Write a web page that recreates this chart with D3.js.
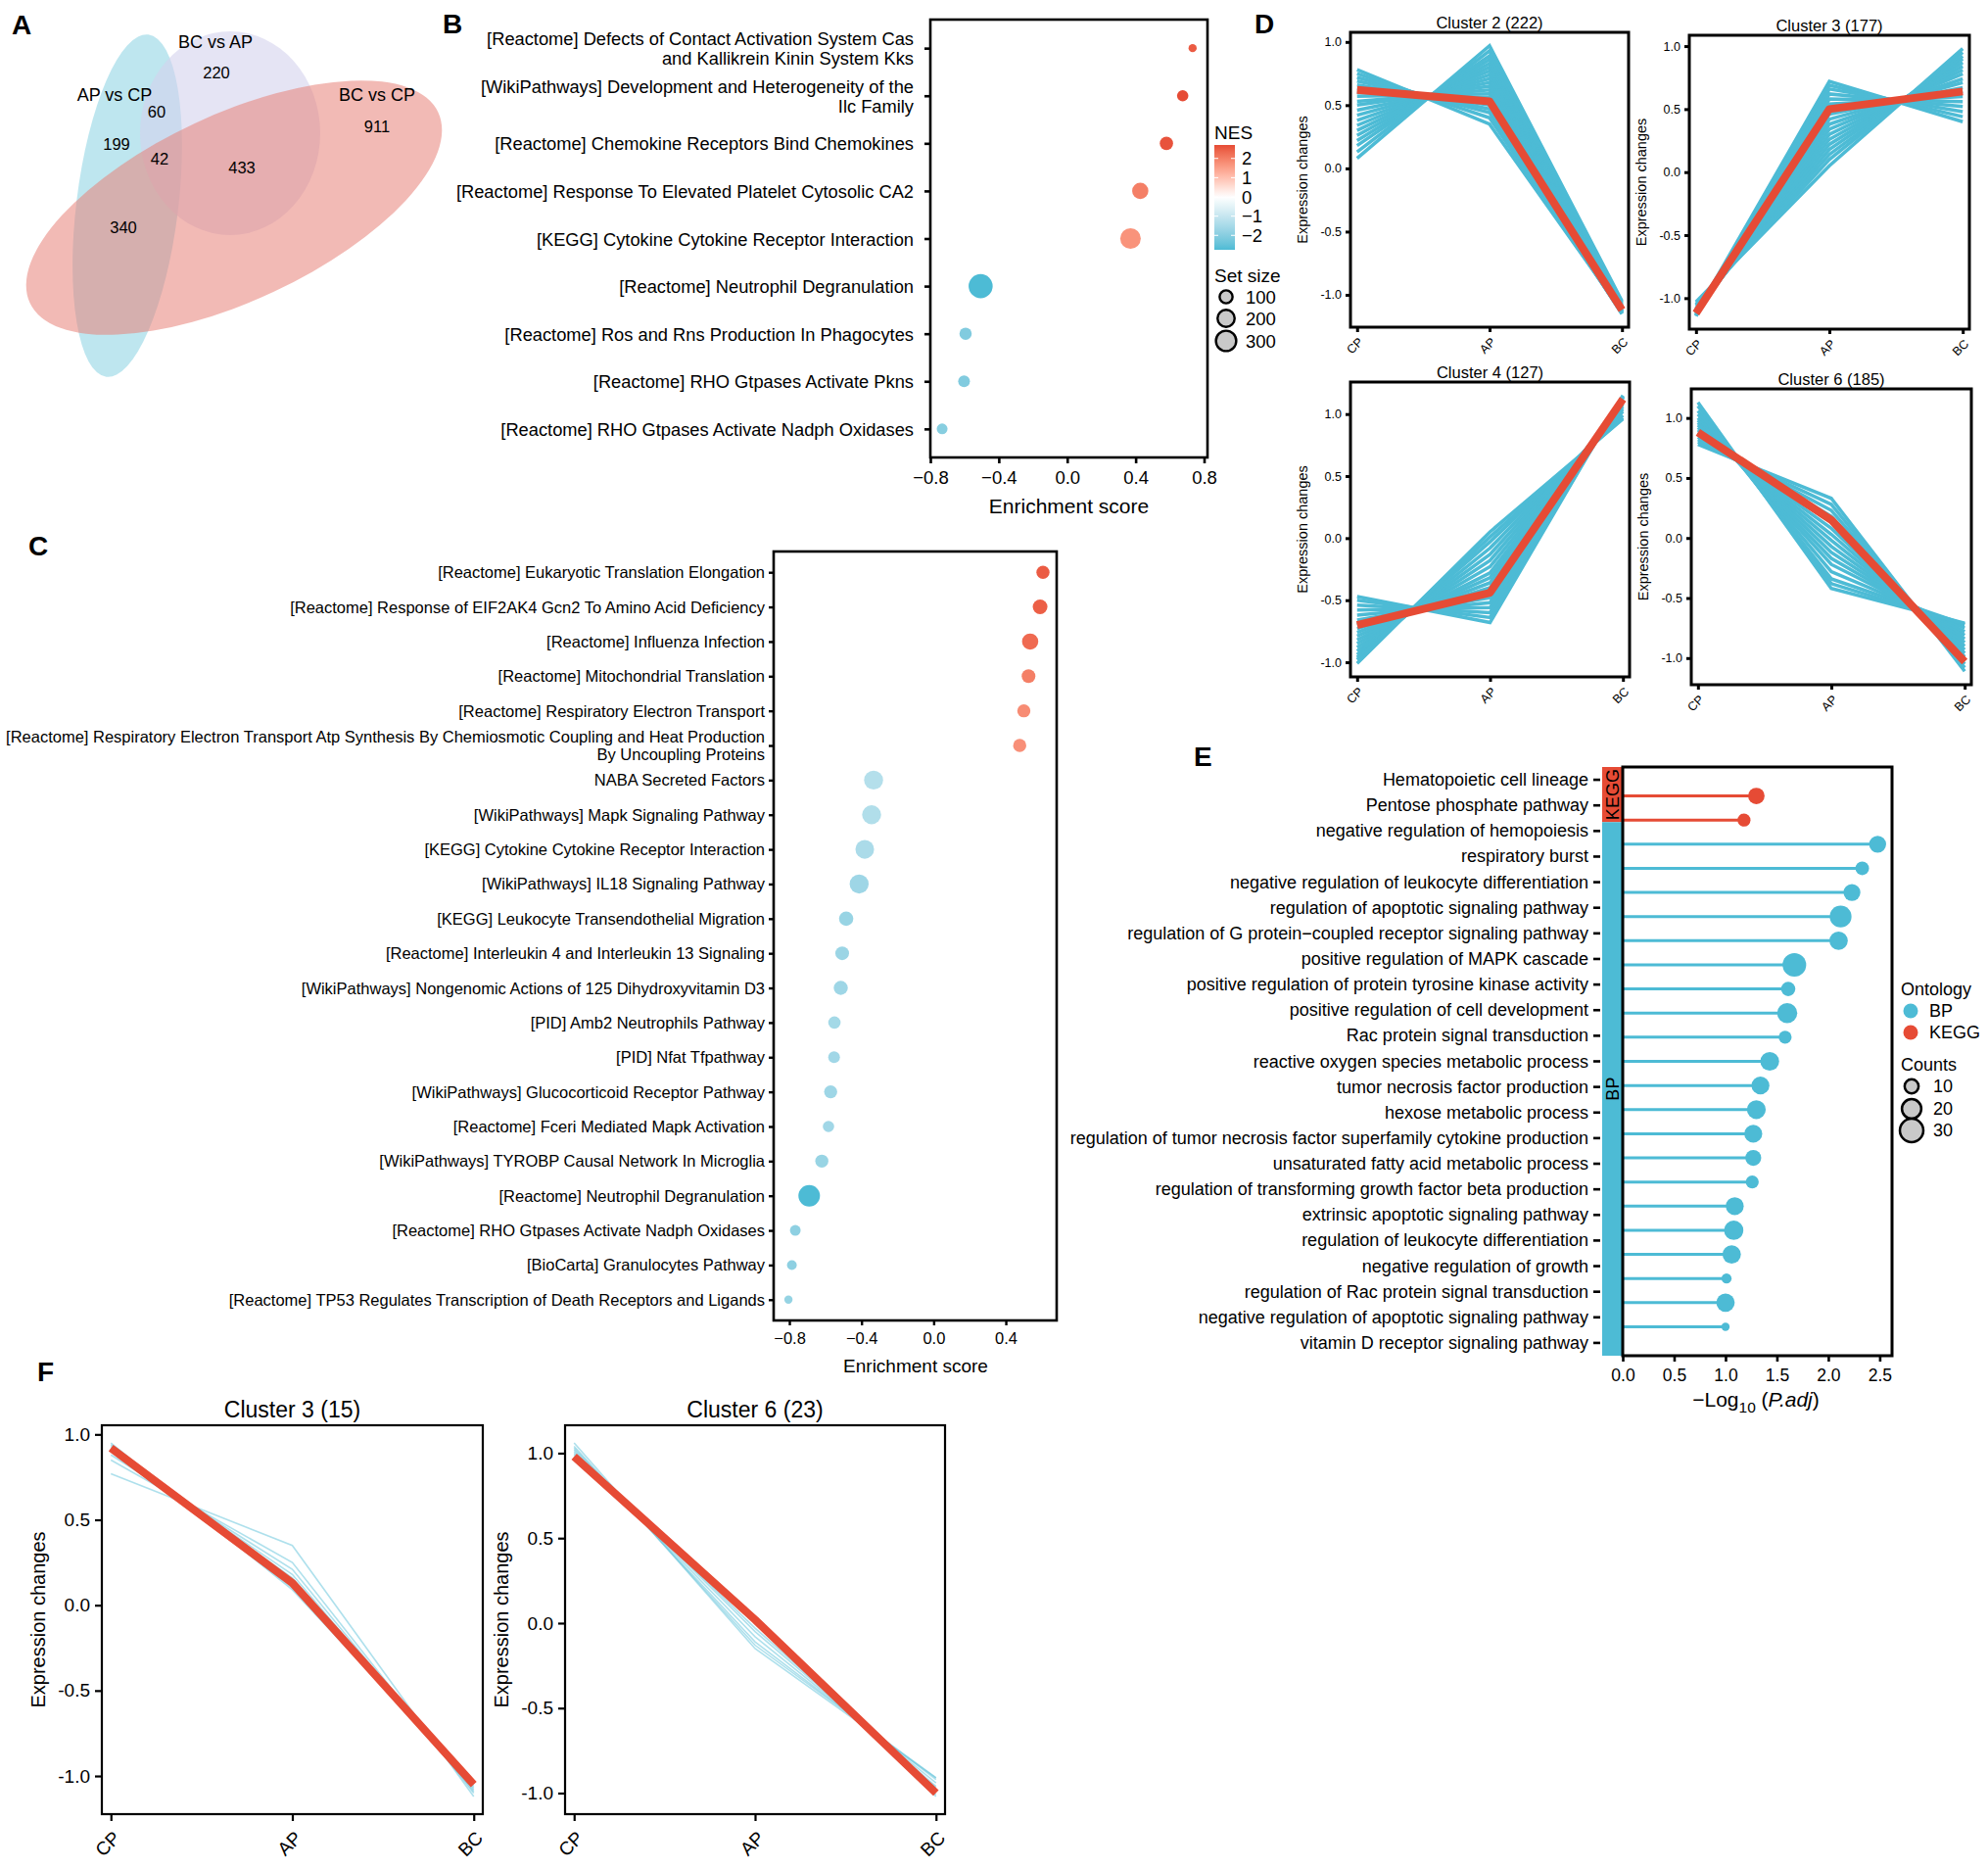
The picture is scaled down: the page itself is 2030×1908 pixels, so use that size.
<!DOCTYPE html>
<html lang="en">
<head>
<meta charset="utf-8">
<title>Figure</title>
<script src="https://cdn.jsdelivr.net/npm/d3@7"></script>
<style>
  body { margin: 0; background: #fff; }
  text { font-family: "Liberation Sans", Arial, sans-serif; fill: #000; }
</style>
</head>
<body>
<script>
// ---------- data ----------
// A: venn counts
var vennNames = ["AP vs CP", "BC vs AP", "BC vs CP"];
var vennRegions = ["AP only", "BC-AP only", "BC-CP only", "AP & BC-AP", "AP & BC-CP", "BC-AP & BC-CP", "all"];
var vennCounts = [199, 220, 911, 60, 340, 433, 42];

// B: GSEA
var bTerms = [
  "[Reactome] Defects of Contact Activation System Cas\nand Kallikrein Kinin System Kks",
  "[WikiPathways] Development and Heterogeneity of the\nIlc Family",
  "[Reactome] Chemokine Receptors Bind Chemokines",
  "[Reactome] Response To Elevated Platelet Cytosolic CA2",
  "[KEGG] Cytokine Cytokine Receptor Interaction",
  "[Reactome] Neutrophil Degranulation",
  "[Reactome] Ros and Rns Production In Phagocytes",
  "[Reactome] RHO Gtpases Activate Pkns",
  "[Reactome] RHO Gtpases Activate Nadph Oxidases"
];
var bES = [0.733, 0.675, 0.58, 0.427, 0.37, -0.506, -0.594, -0.603, -0.731];
var bNES = [2.5, 2.7, 2.6, 2.0, 1.7, -2.75, -2.1, -2.1, -2.0];
var bSize = [18, 55, 88, 151, 275, 405, 70, 61, 47];
var bTicks = [-0.8, -0.4, 0.0, 0.4, 0.8];
var nesTicks = [2, 1, 0, -1, -2];
var sizeBreaks = [100, 200, 300];

// C: GSEA
var cTerms = [
  "[Reactome] Eukaryotic Translation Elongation",
  "[Reactome] Response of EIF2AK4 Gcn2 To Amino Acid Deficiency",
  "[Reactome] Influenza Infection",
  "[Reactome] Mitochondrial Translation",
  "[Reactome] Respiratory Electron Transport",
  "[Reactome] Respiratory Electron Transport Atp Synthesis By Chemiosmotic Coupling and Heat Production\nBy Uncoupling Proteins",
  "NABA Secreted Factors",
  "[WikiPathways] Mapk Signaling Pathway",
  "[KEGG] Cytokine Cytokine Receptor Interaction",
  "[WikiPathways] IL18 Signaling Pathway",
  "[KEGG] Leukocyte Transendothelial Migration",
  "[Reactome] Interleukin 4 and Interleukin 13 Signaling",
  "[WikiPathways] Nongenomic Actions of 125 Dihydroxyvitamin D3",
  "[PID] Amb2 Neutrophils Pathway",
  "[PID] Nfat Tfpathway",
  "[WikiPathways] Glucocorticoid Receptor Pathway",
  "[Reactome] Fceri Mediated Mapk Activation",
  "[WikiPathways] TYROBP Causal Network In Microglia",
  "[Reactome] Neutrophil Degranulation",
  "[Reactome] RHO Gtpases Activate Nadph Oxidases",
  "[BioCarta] Granulocytes Pathway",
  "[Reactome] TP53 Regulates Transcription of Death Receptors and Ligands"
];
var cES = [0.606, 0.59, 0.535, 0.526, 0.50, 0.477, -0.333, -0.344, -0.382, -0.413, -0.485,
           -0.507, -0.515, -0.55, -0.552, -0.571, -0.583, -0.62, -0.69, -0.767, -0.786, -0.805];
var cNES = [2.5, 2.45, 2.3, 2.0, 1.8, 1.75, -1.3, -1.35, -1.45, -1.65, -1.75,
            -1.7, -1.65, -1.55, -1.6, -1.65, -1.6, -1.75, -2.75, -1.9, -1.9, -1.8];
var cSize = [109, 149, 196, 123, 109, 109, 293, 293, 280, 293, 139,
             123, 133, 91, 79, 109, 71, 109, 400, 60, 44, 24];
var cTicks = [-0.8, -0.4, 0.0, 0.4];

// D / F: expression profiles (CP, AP, BC)
var stages = ["CP", "AP", "BC"];
var dTitles = ["Cluster 2 (222)", "Cluster 3 (177)", "Cluster 4 (127)", "Cluster 6 (185)"];
var dLines2 = [[0.78,0.35,-1.13],[0.75,0.40,-1.14],[0.72,0.44,-1.15],[0.69,0.47,-1.15],[0.66,0.50,-1.15],
  [0.63,0.53,-1.14],[0.60,0.56,-1.14],[0.57,0.59,-1.14],[0.53,0.62,-1.14],[0.50,0.65,-1.13],
  [0.46,0.68,-1.13],[0.42,0.71,-1.12],[0.38,0.74,-1.11],[0.34,0.77,-1.10],[0.30,0.80,-1.10],
  [0.26,0.83,-1.09],[0.22,0.86,-1.08],[0.18,0.89,-1.07],[0.13,0.93,-1.06],[0.08,0.97,-1.05]];
var dLines3 = [[-1.12,0.72,0.40],[-1.13,0.69,0.44],[-1.14,0.66,0.48],[-1.14,0.62,0.52],[-1.14,0.58,0.56],
  [-1.14,0.54,0.60],[-1.14,0.50,0.64],[-1.13,0.46,0.67],[-1.13,0.42,0.71],[-1.12,0.38,0.74],
  [-1.12,0.34,0.78],[-1.11,0.30,0.81],[-1.10,0.26,0.84],[-1.09,0.22,0.87],[-1.08,0.18,0.90],
  [-1.06,0.14,0.92],[-1.05,0.10,0.95],[-1.03,0.05,0.98]];
var dLines4 = [[-0.47,-0.68,1.15],[-0.50,-0.64,1.14],[-0.54,-0.60,1.14],[-0.58,-0.56,1.14],[-0.62,-0.52,1.14],
  [-0.66,-0.48,1.14],[-0.70,-0.44,1.14],[-0.73,-0.40,1.13],[-0.76,-0.36,1.12],[-0.79,-0.32,1.11],
  [-0.82,-0.28,1.10],[-0.85,-0.23,1.08],[-0.88,-0.18,1.06],[-0.91,-0.13,1.04],[-0.94,-0.08,1.02],
  [-0.96,-0.03,0.99],[-0.98,0.01,0.97],[-1.01,0.05,0.96]];
var dLines6 = [[0.78,0.33,-1.11],[0.80,0.28,-1.08],[0.82,0.23,-1.05],[0.84,0.18,-1.02],[0.86,0.13,-0.99],
  [0.88,0.08,-0.96],[0.90,0.03,-0.93],[0.92,-0.02,-0.90],[0.94,-0.07,-0.87],[0.96,-0.12,-0.84],
  [0.98,-0.17,-0.81],[1.00,-0.22,-0.78],[1.03,-0.28,-0.75],[1.06,-0.34,-0.72],[1.10,-0.38,-0.72],
  [1.13,-0.42,-0.71]];
var dCentroids = [[0.62,0.53,-1.12],[-1.12,0.50,0.64],[-0.70,-0.44,1.12],[0.88,0.15,-1.03]];
var exprTicks = [-1.0, -0.5, 0.0, 0.5, 1.0];

var fTitles = ["Cluster 3 (15)", "Cluster 6 (23)"];
var fLines3 = [[0.77,0.35,-1.12],[0.85,0.25,-1.10],[0.88,0.21,-1.09],[0.90,0.18,-1.08],
  [0.93,0.13,-1.06],[0.95,0.09,-1.04],[0.91,0.16,-1.07],[0.94,0.10,-1.04]];
var fLines6 = [[1.06,-0.15,-0.91],[1.04,-0.13,-0.91],[1.02,-0.08,-0.94],[1.00,-0.03,-0.97],
  [0.99,0.02,-1.01],[1.01,-0.05,-0.96],[1.03,-0.11,-0.92],[0.98,0.04,-1.02]];
var fCentroids = [[0.92,0.13,-1.05],[0.98,0.02,-1.00]];

// E: enrichment lollipop
var eTerms = [
  "Hematopoietic cell lineage", "Pentose phosphate pathway", "negative regulation of hemopoiesis",
  "respiratory burst", "negative regulation of leukocyte differentiation", "regulation of apoptotic signaling pathway",
  "regulation of G protein\u2212coupled receptor signaling pathway", "positive regulation of MAPK cascade",
  "positive regulation of protein tyrosine kinase activity", "positive regulation of cell development",
  "Rac protein signal transduction", "reactive oxygen species metabolic process", "tumor necrosis factor production",
  "hexose metabolic process", "regulation of tumor necrosis factor superfamily cytokine production",
  "unsaturated fatty acid metabolic process", "regulation of transforming growth factor beta production",
  "extrinsic apoptotic signaling pathway", "regulation of leukocyte differentiation", "negative regulation of growth",
  "regulation of Rac protein signal transduction", "negative regulation of apoptotic signaling pathway",
  "vitamin D receptor signaling pathway"
];
var eOntology = ["KEGG","KEGG","BP","BP","BP","BP","BP","BP","BP","BP","BP","BP","BP","BP","BP","BP","BP","BP","BP","BP","BP","BP","BP"];
var eLogP = [1.30,1.18,2.48,2.33,2.23,2.12,2.10,1.67,1.61,1.60,1.58,1.43,1.34,1.30,1.27,1.27,1.26,1.09,1.08,1.06,1.01,1.00,1.00];
var eCount = [16,10,17,11,17,28,20,33,12,24,10,21,19,21,19,15,10,19,22,20,6,20,4];
var eTicks = [0, 0.5, 1.0, 1.5, 2.0, 2.5];
var countBreaks = [10, 20, 30];

// ---------- drawing ----------
var W = 2030, H = 1908;
var red = "#E64B35", blue = "#4DBBD5";

var svg = d3.select("body").append("svg")
  .attr("width", W).attr("height", H);
svg.append("rect").attr("width", W).attr("height", H).attr("fill", "#fff");

function letter(t, x, y) {
  svg.append("text").attr("x", x).attr("y", y).attr("font-size", 28)
    .attr("font-weight", "bold").text(t);
}
letter("A", 12, 35); letter("B", 452, 34); letter("C", 29, 567);
letter("D", 1281, 34); letter("E", 1219, 782); letter("F", 38, 1410);

function styleAxis(g, fs, tw) {
  g.attr("font-size", fs).attr("font-family", null);
  g.select(".domain").remove();
  g.selectAll(".tick line").attr("stroke", "#000").attr("stroke-width", tw);
}
function frame(box, sw) {
  svg.append("rect").attr("x", box.x0).attr("y", box.y0)
    .attr("width", box.x1 - box.x0).attr("height", box.y1 - box.y0)
    .attr("fill", "none").attr("stroke", "#000").attr("stroke-width", sw);
}

// ---- A: venn ----
var va = svg.append("g");
va.append("ellipse").attr("cx", 130).attr("cy", 210).attr("rx", 52).attr("ry", 176)
  .attr("transform", "rotate(7,130,210)").attr("fill", "#a2dbe8").attr("fill-opacity", 0.7);
va.append("ellipse").attr("cx", 235).attr("cy", 136).attr("rx", 92).attr("ry", 104)
  .attr("fill", "#d4d2ec").attr("fill-opacity", 0.6);
va.append("ellipse").attr("cx", 239).attr("cy", 212).attr("rx", 230).attr("ry", 95)
  .attr("transform", "rotate(-25,239,212)").attr("fill", "#e88278").attr("fill-opacity", 0.55);
var vennNamePos = [[117, 97], [220, 43], [385, 97]];
va.selectAll("text.nm").data(vennNames).join("text").attr("class", "nm")
  .attr("x", (d, i) => vennNamePos[i][0]).attr("y", (d, i) => vennNamePos[i][1])
  .attr("text-anchor", "middle").attr("dominant-baseline", "central").attr("font-size", 18).text(d => d);
var vennCountPos = [[119, 147], [221, 74], [385, 129], [160, 114], [126, 232], [247, 171], [163, 162]];
va.selectAll("text.ct").data(vennCounts).join("text").attr("class", "ct")
  .attr("x", (d, i) => vennCountPos[i][0]).attr("y", (d, i) => vennCountPos[i][1])
  .attr("text-anchor", "middle").attr("dominant-baseline", "central").attr("font-size", 16.5).text(d => d);

// ---- shared colour scale ----
var nesColor = d3.scaleLinear().domain([-2.75, 0, 2.7]).range([blue, "#ffffff", red])
  .interpolate(d3.interpolateLab);

function multiLabel(g, term, x, y, fs, lh) {
  var parts = term.split("\n");
  var t = g.append("text").attr("x", x).attr("y", y).attr("text-anchor", "end")
    .attr("dominant-baseline", "central").attr("font-size", fs);
  parts.forEach(function(p, k) {
    t.append("tspan").attr("x", x)
      .attr("y", y + (k - (parts.length - 1) / 2) * lh).text(p);
  });
}

// ---- B ----
var bBox = {x0: 950, x1: 1233, y0: 20, y1: 467};
var bx = d3.scaleLinear().domain([-0.8, 0.82]).range([bBox.x0, bBox.x1]);
var by = d3.scalePoint().domain(bTerms).range([bBox.y0, bBox.y1]).padding(0.6);
var bR = d3.scaleSqrt().domain([0, 420]).range([2, 12.5]);
var bg = svg.append("g");
bg.selectAll("circle").data(bTerms).join("circle")
  .attr("cx", (d, i) => bx(bES[i])).attr("cy", d => by(d))
  .attr("r", (d, i) => bR(bSize[i])).attr("fill", (d, i) => nesColor(bNES[i]));
frame(bBox, 2.6);
svg.append("g").attr("transform", `translate(${bBox.x0},0)`)
  .call(d3.axisLeft(by).tickSize(6).tickFormat(""))
  .call(g => styleAxis(g, 18, 2.6));
bTerms.forEach(t => multiLabel(bg, t, 933, by(t), 18.3, 20));
svg.append("g").attr("transform", `translate(0,${bBox.y1})`)
  .call(d3.axisBottom(bx).tickValues(bTicks).tickSize(6).tickPadding(8).tickFormat(d3.format(".1f")))
  .call(g => styleAxis(g, 18.5, 2.6));
svg.append("text").attr("x", (bBox.x0 + bBox.x1) / 2).attr("y", 516).attr("text-anchor", "middle")
  .attr("dominant-baseline", "central").attr("font-size", 21).text("Enrichment score");

// B legend: NES colourbar
var cbY = d3.scaleLinear().domain([-2.75, 2.7]).range([255, 148]);
var defs = svg.append("defs");
var grad = defs.append("linearGradient").attr("id", "nesGrad")
  .attr("x1", 0).attr("y1", 1).attr("x2", 0).attr("y2", 0);
d3.range(0, 1.0001, 0.05).forEach(function(f) {
  var v = -2.75 + f * (2.7 + 2.75);
  grad.append("stop").attr("offset", f).attr("stop-color", nesColor(v));
});
svg.append("text").attr("x", 1240).attr("y", 135).attr("dominant-baseline", "central")
  .attr("font-size", 19).text("NES");
svg.append("rect").attr("x", 1240).attr("y", 148).attr("width", 21).attr("height", 107)
  .attr("fill", "url(#nesGrad)");
svg.append("g").selectAll("g").data(nesTicks).join("g").each(function(v) {
  var g = d3.select(this), yy = cbY(v);
  g.append("line").attr("x1", 1240).attr("x2", 1244).attr("y1", yy).attr("y2", yy).attr("stroke", "#fff").attr("stroke-width", 1);
  g.append("line").attr("x1", 1257).attr("x2", 1261).attr("y1", yy).attr("y2", yy).attr("stroke", "#fff").attr("stroke-width", 1);
  g.append("text").attr("x", 1268).attr("y", yy).attr("dominant-baseline", "central")
    .attr("font-size", 18.5).text(d3.format("d")(v));
});
svg.append("text").attr("x", 1240).attr("y", 281).attr("dominant-baseline", "central")
  .attr("font-size", 19).text("Set size");
var sizeY = [303, 325, 348];
svg.append("g").selectAll("g").data(sizeBreaks).join("g").each(function(v, i) {
  var g = d3.select(this);
  g.append("circle").attr("cx", 1252).attr("cy", sizeY[i]).attr("r", bR(v) - 0.5)
    .attr("fill", "#c9c9c9").attr("stroke", "#000").attr("stroke-width", 2.4);
  g.append("text").attr("x", 1272).attr("y", sizeY[i]).attr("dominant-baseline", "central")
    .attr("font-size", 18.5).text(v);
});

// ---- C ----
var cBox = {x0: 790, x1: 1079, y0: 563, y1: 1348};
var cx = d3.scaleLinear().domain([-0.887, 0.682]).range([cBox.x0, cBox.x1]);
var cy = d3.scalePoint().domain(cTerms).range([cBox.y0, cBox.y1]).padding(0.6);
var cR = d3.scaleSqrt().domain([0, 400]).range([2, 11]);
var cg = svg.append("g");
cg.selectAll("circle").data(cTerms).join("circle")
  .attr("cx", (d, i) => cx(cES[i])).attr("cy", d => cy(d))
  .attr("r", (d, i) => cR(cSize[i])).attr("fill", (d, i) => nesColor(cNES[i]));
frame(cBox, 2.6);
svg.append("g").attr("transform", `translate(${cBox.x0},0)`)
  .call(d3.axisLeft(cy).tickSize(5).tickFormat(""))
  .call(g => styleAxis(g, 16, 2.4));
cTerms.forEach(t => multiLabel(cg, t, 781, cy(t), 16.5, 18));
svg.append("g").attr("transform", `translate(0,${cBox.y1})`)
  .call(d3.axisBottom(cx).tickValues(cTicks).tickSize(5).tickPadding(7).tickFormat(d3.format(".1f")))
  .call(g => styleAxis(g, 16.5, 2.4));
svg.append("text").attr("x", 935).attr("y", 1394).attr("text-anchor", "middle")
  .attr("dominant-baseline", "central").attr("font-size", 19).text("Enrichment score");

// ---- cluster profile plots (D, F) ----
function clusterPanel(box, title, lines, centroid, st) {
  var g = svg.append("g");
  var all = lines.flat().concat(centroid);
  var ext = d3.extent(all), pad = (ext[1] - ext[0]) * 0.05;
  var x = d3.scalePoint().domain(stages).range([box.x0, box.x1]).padding(0.05);
  var y = d3.scaleLinear().domain([ext[0] - pad, ext[1] + pad]).range([box.y1, box.y0]);
  var line = d3.line().x((d, i) => x(stages[i])).y(d => y(d));
  g.append("g").selectAll("path").data(lines).join("path")
    .attr("d", line).attr("fill", "none").attr("stroke", st.lc)
    .attr("stroke-width", st.lw).attr("stroke-opacity", st.lo);
  g.append("path").datum(centroid).attr("d", line).attr("fill", "none")
    .attr("stroke", red).attr("stroke-width", st.rw).attr("stroke-linejoin", "round");
  frame(box, st.bw);
  svg.append("g").attr("transform", `translate(${box.x0},0)`)
    .call(d3.axisLeft(y).tickValues(exprTicks).tickSize(st.ts).tickPadding(st.tp).tickFormat(d => d.toFixed(1)))
    .call(a => styleAxis(a, st.tf, st.bw));
  svg.append("g").attr("transform", `translate(0,${box.y1})`)
    .call(d3.axisBottom(x).tickSize(st.ts).tickFormat(""))
    .call(a => styleAxis(a, st.tf, st.bw));
  g.selectAll("text.st").data(stages).join("text").attr("class", "st")
    .attr("transform", d => `translate(${x(d) + st.lx},${box.y1 + st.ly}) rotate(-45)`)
    .attr("text-anchor", "end").attr("dominant-baseline", "central")
    .attr("font-size", st.xf).text(d => d);
  g.append("text").attr("x", (box.x0 + box.x1) / 2).attr("y", box.y0 + st.ty)
    .attr("text-anchor", "middle").attr("dominant-baseline", "central")
    .attr("font-size", st.tt).text(title);
  g.append("text").attr("transform", `translate(${box.x0 + st.yx},${(box.y0 + box.y1) / 2}) rotate(-90)`)
    .attr("text-anchor", "middle").attr("dominant-baseline", "central")
    .attr("font-size", st.yf).text("Expression changes");
}

var dStyle = {lc: blue, lw: 3.5, lo: 1, rw: 8, bw: 3, ts: 5, tp: 4, tf: 12.5, xf: 12.5,
              lx: 4, ly: 13, ty: -10, tt: 16.5, yx: -49, yf: 14.5};
var dBoxes = [{x0: 1379, x1: 1663, y0: 33, y1: 334}, {x0: 1725, x1: 2011, y0: 36, y1: 336},
              {x0: 1379, x1: 1664, y0: 390, y1: 691}, {x0: 1727, x1: 2013, y0: 397, y1: 699}];
var dLines = [dLines2, dLines3, dLines4, dLines6];
dBoxes.forEach((b, i) => clusterPanel(b, dTitles[i], dLines[i], dCentroids[i], dStyle));

var fStyle = {lc: "#6cc6dc", lw: 1.6, lo: 0.55, rw: 8, bw: 2.2, ts: 7, tp: 5, tf: 19, xf: 19,
              lx: 6, ly: 21, ty: -16, tt: 23, yx: -65, yf: 20};
var fBoxes = [{x0: 104, x1: 493, y0: 1455, y1: 1852}, {x0: 577, x1: 965, y0: 1455, y1: 1852}];
var fLines = [fLines3, fLines6];
fBoxes.forEach((b, i) => clusterPanel(b, fTitles[i], fLines[i], fCentroids[i], fStyle));

// ---- E ----
var eBox = {x0: 1657, x1: 1932, y0: 783, y1: 1384};
var ex = d3.scaleLinear().domain([0, 2.62]).range([eBox.x0, eBox.x1]);
var eyLab = d3.scalePoint().domain(eTerms).range([eBox.y0, eBox.y1]).padding(0.5);
var eyPt = d3.scalePoint().domain(eTerms).range([eBox.y0, eBox.y1]).padding(1.2);
var eR = d3.scaleSqrt().domain([0, 30]).range([0, 11.5]);
var ontColor = d3.scaleOrdinal().domain(["BP", "KEGG"]).range([blue, red]);
var eg = svg.append("g");
eg.selectAll("line").data(eTerms).join("line")
  .attr("x1", ex(0)).attr("x2", (d, i) => ex(eLogP[i]))
  .attr("y1", d => eyPt(d)).attr("y2", d => eyPt(d))
  .attr("stroke", (d, i) => ontColor(eOntology[i])).attr("stroke-width", 3);
eg.selectAll("circle").data(eTerms).join("circle")
  .attr("cx", (d, i) => ex(eLogP[i])).attr("cy", d => eyPt(d))
  .attr("r", (d, i) => eR(eCount[i])).attr("fill", (d, i) => ontColor(eOntology[i]));
// strips
var splitY = (eyLab(eTerms[1]) + eyLab(eTerms[2])) / 2 + 4;
svg.append("rect").attr("x", 1636).attr("y", eBox.y0).attr("width", 21).attr("height", splitY - eBox.y0).attr("fill", red);
svg.append("rect").attr("x", 1636).attr("y", splitY).attr("width", 21).attr("height", eBox.y1 - splitY).attr("fill", blue);
svg.append("text").attr("transform", `translate(1647,${(eBox.y0 + splitY) / 2}) rotate(-90)`)
  .attr("text-anchor", "middle").attr("dominant-baseline", "central").attr("font-size", 18).text("KEGG");
svg.append("text").attr("transform", `translate(1647,${(splitY + eBox.y1) / 2}) rotate(-90)`)
  .attr("text-anchor", "middle").attr("dominant-baseline", "central").attr("font-size", 18).text("BP");
frame(eBox, 3);
eg.selectAll("line.tk").data(eTerms).join("line").attr("class", "tk")
  .attr("x1", 1627).attr("x2", 1634).attr("y1", d => eyLab(d)).attr("y2", d => eyLab(d))
  .attr("stroke", "#000").attr("stroke-width", 2.6);
eg.selectAll("text.lb").data(eTerms).join("text").attr("class", "lb")
  .attr("x", 1622).attr("y", d => eyLab(d)).attr("text-anchor", "end")
  .attr("dominant-baseline", "central").attr("font-size", 18).text(d => d);
svg.append("g").attr("transform", `translate(0,${eBox.y1})`)
  .call(d3.axisBottom(ex).tickValues(eTicks).tickSize(6).tickPadding(8).tickFormat(d3.format(".1f")))
  .call(g => styleAxis(g, 17.5, 2.6));
var et = svg.append("text").attr("x", 1793).attr("y", 1436).attr("text-anchor", "middle")
  .attr("font-size", 21);
et.append("tspan").text("\u2212Log");
et.append("tspan").attr("font-size", 15.5).attr("dy", 6).text("10");
et.append("tspan").attr("dy", -6).text(" (");
et.append("tspan").attr("font-style", "italic").text("P.adj");
et.append("tspan").text(")");

// E legend
svg.append("text").attr("x", 1941).attr("y", 1010).attr("dominant-baseline", "central")
  .attr("font-size", 18).text("Ontology");
var ontY = {BP: 1032, KEGG: 1054};
["BP", "KEGG"].forEach(function(o) {
  svg.append("circle").attr("cx", 1951).attr("cy", ontY[o]).attr("r", 7.5).attr("fill", ontColor(o));
  svg.append("text").attr("x", 1970).attr("y", ontY[o]).attr("dominant-baseline", "central")
    .attr("font-size", 18).text(o);
});
svg.append("text").attr("x", 1941).attr("y", 1087).attr("dominant-baseline", "central")
  .attr("font-size", 18).text("Counts");
var cntY = [1109, 1132, 1154];
countBreaks.forEach(function(v, i) {
  svg.append("circle").attr("cx", 1952).attr("cy", cntY[i]).attr("r", eR(v) + 0.5)
    .attr("fill", "#c9c9c9").attr("stroke", "#000").attr("stroke-width", 2.5);
  svg.append("text").attr("x", 1974).attr("y", cntY[i]).attr("dominant-baseline", "central")
    .attr("font-size", 18).text(v);
});
</script>
</body>
</html>
